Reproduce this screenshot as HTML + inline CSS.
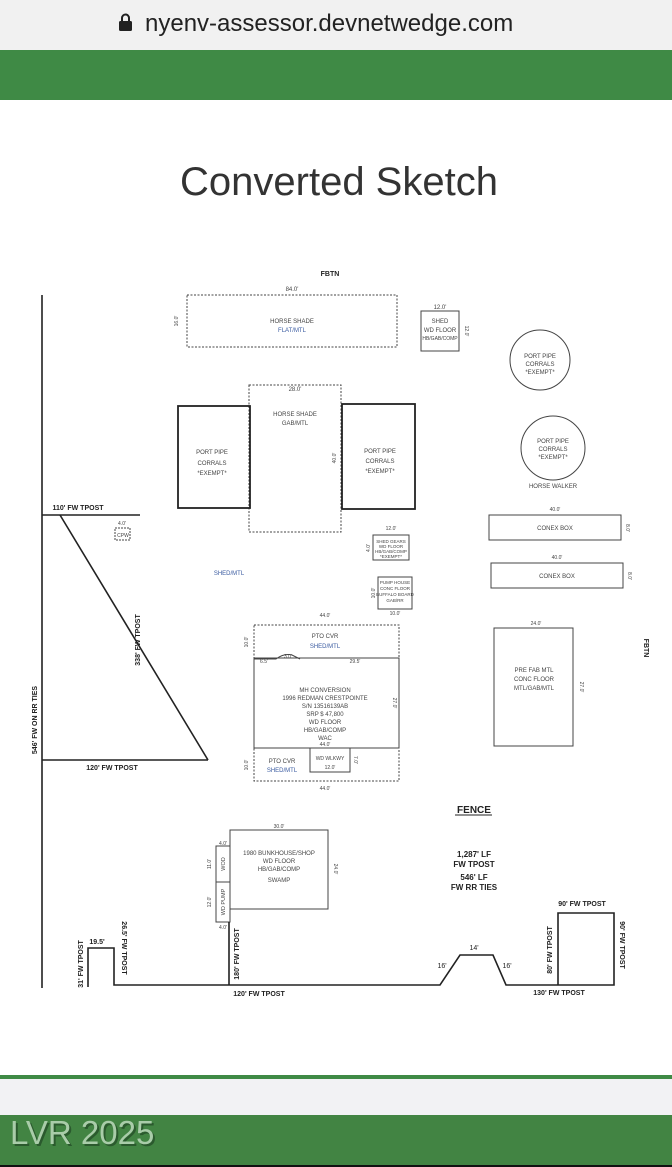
<!DOCTYPE html>
<html><head><meta charset="utf-8"><style>
html,body{margin:0;padding:0;width:672px;height:1167px;overflow:hidden;background:#fff;font-family:"Liberation Sans",sans-serif}
</style></head><body>
<svg width="672" height="1167" viewBox="0 0 672 1167" xmlns="http://www.w3.org/2000/svg" font-family="Liberation Sans, sans-serif">
<rect x="0" y="0" width="672" height="50" fill="#f1f1f1"/>
<g transform="translate(119,14)"><rect x="0" y="7" width="13" height="10" rx="1.5" fill="#222"/><path d="M3 8 V4 a3.5 3.5 0 0 1 7 0 V8" fill="none" stroke="#222" stroke-width="2"/></g>
<text x="145" y="31" font-size="24" fill="#222">nyenv-assessor.devnetwedge.com</text>
<rect x="0" y="50" width="672" height="50" fill="#3f8a45"/>
<text x="339" y="195" font-size="40" fill="#333" text-anchor="middle">Converted Sketch</text>
<g fill="none" stroke="#444" stroke-width="1">
<rect x="187" y="295" width="210" height="52" stroke-dasharray="2,1.5"/>
<rect x="421" y="311" width="38" height="40"/>
<circle cx="540" cy="360" r="30"/>
<circle cx="553" cy="448" r="32"/>
<rect x="249" y="385" width="92" height="147" stroke-dasharray="2,1.5"/>
<rect x="178" y="406" width="72" height="102" stroke-width="1.8" stroke="#222"/>
<rect x="342" y="404" width="73" height="105" stroke-width="1.8" stroke="#222"/>
<rect x="115" y="528" width="15" height="12" stroke-dasharray="2,1"/>
<rect x="373" y="535" width="36" height="25"/>
<rect x="378" y="577" width="34" height="32"/>
<rect x="489" y="515" width="132" height="25"/>
<rect x="491" y="563" width="132" height="25"/>
<rect x="494" y="628" width="79" height="118"/>
<rect x="254" y="625" width="145" height="33" stroke-dasharray="2,1.5"/>
<rect x="254" y="658" width="145" height="90"/>
<rect x="254" y="748" width="145" height="33" stroke-dasharray="2,1.5"/>
<rect x="310" y="748" width="40" height="24"/>
<path d="M254 659 L276 659 Q284 653 292 655 L300 659"/>
<rect x="230" y="830" width="98" height="79"/>
<rect x="216" y="846" width="14" height="36"/>
<rect x="216" y="882" width="14" height="40"/>
</g>
<g fill="none" stroke="#222" stroke-width="1.6">
<line x1="42" y1="295" x2="42" y2="988"/>
<line x1="42" y1="515" x2="140" y2="515"/>
<line x1="60" y1="515" x2="208" y2="760"/>
<line x1="42" y1="760" x2="208" y2="760"/>
<polyline points="88,987 88,948 114,948 114,985 440,985 460,955 493,955 506,985 558,985 558,913 614,913 614,985 558,985"/>
<line x1="229" y1="922" x2="229" y2="985"/>
</g>
<g font-size="6" fill="#444" text-anchor="middle">
<text x="292" y="291">84.0'</text>
<text x="292" y="323">HORSE SHADE</text>
<text x="292" y="332" fill="#3a5ba0">FLAT/MTL</text>
<text x="440" y="309">12.0'</text>
<text x="440" y="323">SHED</text>
<text x="440" y="332">WD FLOOR</text>
<text x="440" y="340" font-size="5">HB/GAB/COMP</text>
<text x="540" y="358">PORT PIPE</text><text x="540" y="366">CORRALS</text><text x="540" y="374">*EXEMPT*</text>
<text x="553" y="443">PORT PIPE</text><text x="553" y="451">CORRALS</text><text x="553" y="459">*EXEMPT*</text>
<text x="553" y="488">HORSE WALKER</text>
<text x="295" y="391">28.0'</text>
<text x="295" y="416">HORSE SHADE</text><text x="295" y="425">GAB/MTL</text>
<text x="212" y="454">PORT PIPE</text><text x="212" y="465">CORRALS</text><text x="212" y="475">*EXEMPT*</text>
<text x="380" y="453">PORT PIPE</text><text x="380" y="463">CORRALS</text><text x="380" y="473">*EXEMPT*</text>
<text x="122" y="525" font-size="5">4.0'</text><text x="123" y="537" font-size="5">CPW</text>
<text x="229" y="575" fill="#3a5ba0">SHED/MTL</text>
<text x="391" y="530" font-size="5">12.0'</text>
<text x="391" y="543" font-size="4.5">SHED GEARS</text><text x="391" y="548" font-size="4.5">WD FLOOR</text><text x="391" y="553" font-size="4.5">HB/GAB/COMP</text><text x="391" y="558" font-size="4.5">*EXEMPT*</text>
<text x="395" y="584" font-size="4.5">PUMP HOUSE</text><text x="395" y="590" font-size="4.5">CONC FLOOR</text><text x="395" y="596" font-size="4.5">BUFFALO BOARD</text><text x="395" y="602" font-size="4.5">GAB/RR</text>
<text x="395" y="615" font-size="5">10.0'</text>
<text x="555" y="511" font-size="5">40.0'</text><text x="555" y="530">CONEX BOX</text>
<text x="557" y="559" font-size="5">40.0'</text><text x="557" y="578">CONEX BOX</text>
<text x="536" y="625" font-size="5">24.0'</text>
<text x="534" y="672">PRE FAB MTL</text><text x="534" y="681">CONC FLOOR</text><text x="534" y="690">MTL/GAB/MTL</text>
<text x="325" y="617" font-size="5">44.0'</text>
<text x="325" y="638">PTO CVR</text><text x="325" y="648" fill="#3a5ba0">SHED/MTL</text>
<text x="264" y="663" font-size="5">6.5'</text><text x="288" y="658" font-size="5">3.0'</text><text x="355" y="663" font-size="5">29.5'</text>
<text x="325" y="692">MH CONVERSION</text><text x="325" y="700">1996 REDMAN CRESTPOINTE</text><text x="325" y="708">S/N 13516139AB</text><text x="325" y="716">SRP $ 47,800</text><text x="325" y="724">WD FLOOR</text><text x="325" y="732">HB/GAB/COMP</text><text x="325" y="740">WAC</text>
<text x="325" y="746" font-size="5">44.0'</text>
<text x="282" y="763">PTO CVR</text><text x="282" y="772" fill="#3a5ba0">SHED/MTL</text>
<text x="330" y="760" font-size="5">WD WLKWY</text><text x="330" y="769" font-size="5">12.0'</text>
<text x="325" y="790" font-size="5">44.0'</text>
<text x="279" y="828" font-size="5">30.0'</text>
<text x="279" y="855">1980 BUNKHOUSE/SHOP</text><text x="279" y="863">WD FLOOR</text><text x="279" y="871">HB/GAB/COMP</text><text x="279" y="882">SWAMP</text>
<text x="223" y="845" font-size="5">4.0'</text><text x="223" y="929" font-size="5">4.0'</text>
</g>
<g font-size="5" fill="#444" text-anchor="middle">
<text transform="translate(178,321) rotate(-90)">16.0'</text>
<text transform="translate(465,331) rotate(90)">12.0'</text>
<text transform="translate(336,458) rotate(-90)">40.0'</text>
<text transform="translate(370,548) rotate(-90)">4.0'</text>
<text transform="translate(375,593) rotate(-90)">10.0'</text>
<text transform="translate(626,528) rotate(90)">8.0'</text>
<text transform="translate(628,576) rotate(90)">8.0'</text>
<text transform="translate(580,687) rotate(90)">27.0'</text>
<text transform="translate(248,642) rotate(-90)">10.0'</text>
<text transform="translate(393,703) rotate(90)">27.0'</text>
<text transform="translate(248,765) rotate(-90)">10.0'</text>
<text transform="translate(354,760) rotate(90)">7.0'</text>
<text transform="translate(334,869) rotate(90)">24.0'</text>
<text transform="translate(211,864) rotate(-90)">11.0'</text>
<text transform="translate(211,902) rotate(-90)">12.0'</text>
<text transform="translate(225,864) rotate(-90)" font-size="5.5">WOD</text>
<text transform="translate(225,902) rotate(-90)" font-size="5.5">WD PUMP</text>
</g>
<g font-size="7" font-weight="bold" fill="#222" text-anchor="middle">
<text x="330" y="276">FBTN</text>
<text transform="translate(644,648) rotate(90)">FBTN</text>
<text x="78" y="510">110' FW TPOST</text>
<text transform="translate(140,640) rotate(-90)">338' FW TPOST</text>
<text transform="translate(37,720) rotate(-90)">546' FW ON RR TIES</text>
<text x="112" y="770">120' FW TPOST</text>
<text x="474" y="857" font-size="8">1,287' LF</text><text x="474" y="867" font-size="8">FW TPOST</text>
<text x="474" y="880" font-size="8">546' LF</text><text x="474" y="890" font-size="8">FW RR TIES</text>
<text x="97" y="944">19.5'</text>
<text transform="translate(83,964) rotate(-90)">31' FW TPOST</text>
<text transform="translate(122,948) rotate(90)">26.5' FW TPOST</text>
<text transform="translate(239,954) rotate(-90)">180' FW TPOST</text>
<text x="259" y="996">120' FW TPOST</text>
<text x="442" y="968" font-weight="normal">16'</text>
<text x="474" y="950" font-weight="normal">14'</text>
<text x="507" y="968" font-weight="normal">16'</text>
<text transform="translate(552,950) rotate(-90)">80' FW TPOST</text>
<text x="582" y="906">90' FW TPOST</text>
<text transform="translate(620,945) rotate(90)">90' FW TPOST</text>
<text x="559" y="995">130' FW TPOST</text>
</g>
<text x="474" y="813" font-size="10" font-weight="bold" fill="#222" text-anchor="middle">FENCE</text>
<line x1="455" y1="815" x2="492" y2="815" stroke="#222" stroke-width="1"/>
<rect x="0" y="1075" width="672" height="4" fill="#3f8a45"/>
<rect x="0" y="1079" width="672" height="36" fill="#f2f2f4"/>
<rect x="0" y="1115" width="672" height="52" fill="#428443"/>
<text x="12" y="1146" font-size="33" fill="#2b5a2e">LVR 2025</text>
<text x="10" y="1144" font-size="33" fill="#a9cca9">LVR 2025</text>
<rect x="0" y="1165" width="672" height="2" fill="#111"/>
</svg>
</body></html>
